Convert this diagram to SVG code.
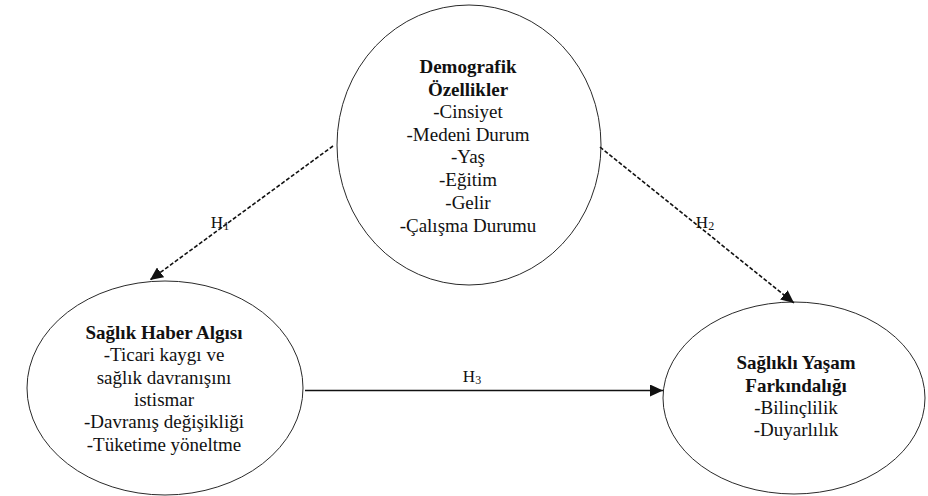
<svg xmlns="http://www.w3.org/2000/svg" width="928" height="496" viewBox="0 0 928 496">
<style>
.node{fill:#fff;stroke:#2a2a2a;stroke-width:1}
text{font-family:"Liberation Serif","Times New Roman",serif;font-size:19px;fill:#111;text-anchor:middle}
.b{font-weight:bold}
.lbl{font-size:17px}
.sub{font-size:12px}
.edge{stroke:#111;stroke-width:1.6;fill:none}
.dash{stroke-dasharray:4 2}
</style>
<defs>
<marker id="ah" markerUnits="userSpaceOnUse" markerWidth="14" markerHeight="12" refX="13" refY="6" orient="auto">
<path d="M0,0 L13,6 L0,12 Z" fill="#111"/>
</marker>
</defs>
<rect width="928" height="496" fill="#fff"/>
<g id="n-demo">
<ellipse class="node" cx="469" cy="145" rx="132" ry="140"/>
<text class="b" x="468" y="73">Demografik</text>
<text class="b" x="468" y="96">Özellikler</text>
<text x="468" y="118">-Cinsiyet</text>
<text x="468" y="141">-Medeni Durum</text>
<text x="468" y="163">-Yaş</text>
<text x="468" y="186">-Eğitim</text>
<text x="468" y="209">-Gelir</text>
<text x="468" y="232">-Çalışma Durumu</text>
</g>
<g id="n-haber">
<ellipse class="node" cx="165" cy="388" rx="138" ry="107"/>
<text class="b" x="164" y="339">Sağlık Haber Algısı</text>
<text x="164" y="361">-Ticari kaygı ve</text>
<text x="164" y="384">sağlık davranışını</text>
<text x="164" y="406">istismar</text>
<text x="164" y="428">-Davranış değişikliği</text>
<text x="164" y="451">-Tüketime yöneltme</text>
</g>
<g id="n-yasam">
<ellipse class="node" cx="794" cy="398" rx="131" ry="96"/>
<text class="b" x="796" y="369">Sağlıklı Yaşam</text>
<text class="b" x="796" y="392">Farkındalığı</text>
<text x="796" y="414">-Bilinçlilik</text>
<text x="796" y="436">-Duyarlılık</text>
</g>
<g id="edges">
<line class="edge dash" x1="333" y1="146" x2="150" y2="280" marker-end="url(#ah)"/>
<line class="edge dash" x1="600" y1="147" x2="794" y2="303" marker-end="url(#ah)"/>
<line class="edge" x1="305" y1="390.5" x2="663" y2="390.5" marker-end="url(#ah)"/>
<text class="lbl" x="220" y="228">H<tspan class="sub" dy="2">1</tspan></text>
<text class="lbl" x="705" y="228">H<tspan class="sub" dy="2">2</tspan></text>
<text class="lbl" x="472" y="382">H<tspan class="sub" dy="2">3</tspan></text>
</g>
</svg>
